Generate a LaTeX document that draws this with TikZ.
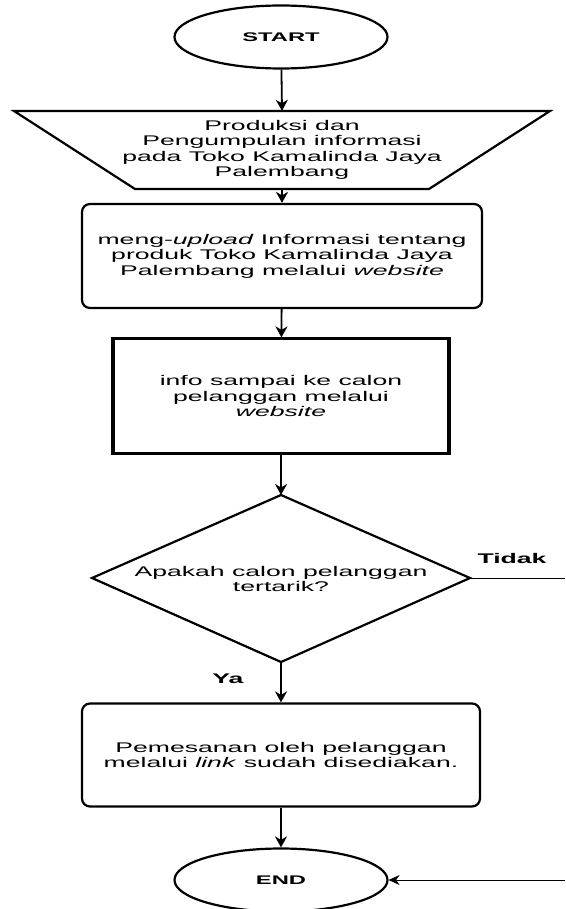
\documentclass[tikz,border=0pt]{standalone}
\usepackage{fontspec}
\setmainfont[FakeStretch=1.9]{Liberation Sans}
\usetikzlibrary{arrows.meta,shapes.geometric}
\tikzset{
  shapeline/.style={line width=2.2pt},
  conn/.style={line width=1.8pt,-{Stealth[length=11pt,width=12pt,inset=3.5pt]}},
  thinline/.style={line width=1pt},
  txt/.style={font=\fontsize{14}{15.5}\selectfont,align=center,inner sep=0pt},
  term/.style={ellipse,draw,shapeline,minimum width=213pt,minimum height=63pt,inner sep=0pt,font=\fontsize{12.5}{14}\selectfont\bfseries},
  rbox/.style={draw,shapeline,rounded corners=8pt,inner sep=0pt,font=\fontsize{14}{15.5}\selectfont,align=center},
  lbl/.style={font=\fontsize{14}{15.5}\selectfont\bfseries,inner sep=0pt}
}
\begin{document}
\begin{tikzpicture}[x=1pt,y=-1pt]
\useasboundingbox (0,0) rectangle (565,909);
% START
\node[term] (start) at (281,37) {START};
% trapezoid (manual input)
\node[txt,minimum width=294pt,minimum height=78pt] (trap) at (282,150)
  {Produksi dan\\Pengumpulan informasi\\pada Toko Kamalinda Jaya\\Palembang};
\draw[shapeline,line join=miter] (14,111) -- (550,111) -- (429,189) -- (135,189) -- cycle;
% upload box
\node[rbox,minimum width=400pt,minimum height=104pt] (upload) at (282,256)
  {meng-\textit{upload} Informasi tentang\\produk Toko Kamalinda Jaya\\Palembang melalui \textit{website}};
% info box (process with double sides)
\node[draw,shapeline,minimum width=338pt,minimum height=115pt,inner sep=0pt,
  font=\fontsize{14}{15.5}\selectfont,align=center] (info) at (281,396)
  {info sampai ke calon\\pelanggan melalui\\\textit{website}};
\draw[line width=1.4pt] ([xshift=3pt]info.north west) -- ([xshift=3pt]info.south west);
\draw[line width=1.4pt] ([xshift=-3pt]info.north east) -- ([xshift=-3pt]info.south east);
% decision
\coordinate (dtop) at (281,495);
\coordinate (dright) at (470,578);
\coordinate (dbot) at (281,662);
\coordinate (dleft) at (92,578);
\draw[shapeline,line join=miter] (dtop) -- (dright) -- (dbot) -- (dleft) -- cycle;
\node[txt] (q) at (281,579) {Apakah calon pelanggan\\tertarik?};
% order box
\node[rbox,minimum width=398pt,minimum height=103pt] (order) at (281,755)
  {Pemesanan oleh pelanggan\\melalui \textit{link} sudah disediakan.};
% END
\node[term] (end) at (281,880) {END};
% connectors
\draw[conn] (start) -- (trap.north);
\draw[conn] (trap.south) -- (upload);
\draw[conn] (upload) -- (info);
\draw[conn] (info) -- (dtop);
\draw[conn] (dbot) -- (order);
\draw[conn] (order) -- (end);
\coordinate (tidakend) at (565,578);
\draw[thinline] (dright) -- (tidakend);
\coordinate (endin) at (565,880);
\draw[thinline,-{Stealth[length=11pt,width=10pt,inset=3.5pt]}] (endin) -- (end);
% labels
\node[lbl] (tidak) at (512,558) {Tidak};
\node[lbl] (ya) at (228,679) {Ya};
\end{tikzpicture}
\end{document}
